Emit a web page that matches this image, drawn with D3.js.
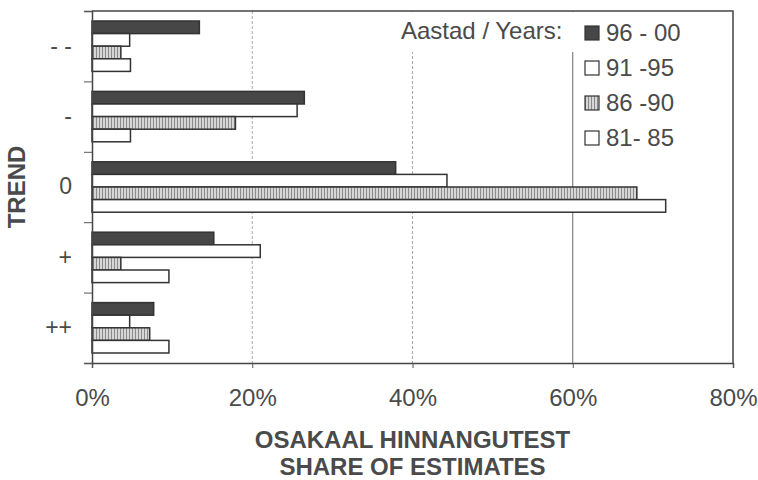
<!DOCTYPE html>
<html>
<head>
<meta charset="utf-8">
<script src="https://cdn.jsdelivr.net/npm/d3@7"></script>
<style>
  html, body { margin: 0; padding: 0; background: #fff; }
  svg { display: block; font-family: "Liberation Sans", Arial, sans-serif; }
</style>
</head>
<body>
<svg id="chart" width="758" height="480"></svg>
<script>
// ---- data ----
const categories = ["- -", "-", "0", "+", "++"];
const seriesNames = ["96 - 00", "91 -95", "86 -90", "81- 85"];
const v9600 = [13.4, 26.5, 37.9, 15.2, 7.7];
const v9195 = [4.7, 25.6, 44.3, 21.0, 4.7];
const v8690 = [3.6, 17.9, 68.0, 3.6, 7.2];
const v8185 = [4.8, 4.8, 71.6, 9.6, 9.6];
const xTicks = [0, 20, 40, 60, 80];
const legendTitle = "Aastad / Years:";
const yTitle = "TREND";
const xTitle1 = "OSAKAAL HINNANGUTEST";
const xTitle2 = "SHARE OF ESTIMATES";

const seriesValues = [v9600, v9195, v8690, v8185];
const fills = ["#474747", "#ffffff", "url(#stripes)", "#ffffff"];

const svg = d3.select("#chart");
const m = { left: 92, top: 11, right: 733, bottom: 363 };
const textCol = "#4a4a4a";

// pattern for 86-90
const defs = svg.append("defs");
const pat = defs.append("pattern").attr("id", "stripes")
  .attr("patternUnits", "userSpaceOnUse").attr("width", 3).attr("height", 3);
pat.append("rect").attr("width", 3).attr("height", 3).attr("fill", "#d6d6d6");
pat.append("rect").attr("x", 0).attr("width", 1).attr("height", 3).attr("fill", "#8a8a8a");

const x = d3.scaleLinear().domain([0, 80]).range([m.left, m.right]);
const y = d3.scaleBand().domain(categories).range([m.top, m.bottom])
  .paddingInner(0.284).paddingOuter(0.142);
const yInner = d3.scaleBand().domain(seriesNames).range([0, y.bandwidth()]);
const yIdx = d3.scaleLinear().domain([0, categories.length]).range([m.top, m.bottom]);

// gridlines
const grid = svg.append("g");
xTicks.filter(t => t > 0 && t < 80).forEach(t => {
  grid.append("line")
    .attr("x1", x(t)).attr("x2", x(t))
    .attr("y1", m.top).attr("y2", m.bottom)
    .attr("stroke", t === 60 ? "#6a6a6a" : "#a8a8a8")
    .attr("stroke-width", 1)
    .attr("stroke-dasharray", t === 60 ? null : "3,2");
});

// frame top and right
svg.append("path")
  .attr("d", `M${m.left},${m.top}H${m.right}V${m.bottom}`)
  .attr("fill", "none").attr("stroke", "#444").attr("stroke-width", 1.5);

// bars
const gBars = svg.append("g");
categories.forEach((c, ci) => {
  seriesNames.forEach((s, si) => {
    gBars.append("rect")
      .attr("x", x(0))
      .attr("y", y(c) + yInner(s))
      .attr("width", x(seriesValues[si][ci]) - x(0))
      .attr("height", yInner.bandwidth())
      .attr("fill", fills[si])
      .attr("stroke", "#333")
      .attr("stroke-width", 1.5);
  });
});

// x axis
const xAxis = d3.axisBottom(x).tickValues(xTicks).tickFormat(d => d + "%")
  .tickSize(5).tickPadding(21);
const gx = svg.append("g").attr("transform", `translate(0,${m.bottom})`).call(xAxis);
gx.select(".domain").attr("stroke", "#444").attr("stroke-width", 1.5);
gx.selectAll(".tick line").attr("stroke", "#555");
gx.selectAll(".tick text").attr("fill", textCol).attr("font-size", 24)
  .attr("font-family", "'Liberation Sans', Arial, sans-serif");

// y axis: labels at band centres, ticks at band boundaries
const yAxis = d3.axisLeft(y).tickSize(0).tickPadding(20);
const gy = svg.append("g").attr("transform", `translate(${m.left},0)`).call(yAxis);
gy.select(".domain").remove();
gy.selectAll(".tick text").attr("fill", textCol).attr("font-size", 23)
  .attr("font-family", "'Liberation Sans', Arial, sans-serif");
const gyt = svg.append("g").attr("transform", `translate(${m.left},0)`)
  .call(d3.axisLeft(yIdx).ticks(categories.length).tickSize(8).tickFormat(""));
gyt.select(".domain").attr("stroke", "#444").attr("stroke-width", 1.5);
gyt.selectAll(".tick line").attr("stroke", "#555");

// legend
const lg = svg.append("g");
lg.append("rect").attr("x", 396).attr("y", m.top + 1).attr("width", 306).attr("height", 40)
  .attr("fill", "#fff");
lg.append("text").attr("x", 401).attr("y", 39).text(legendTitle)
  .attr("font-size", 24).attr("fill", textCol);
seriesNames.forEach((s, i) => {
  const cy = 33 + i * 35;
  lg.append("rect").attr("x", 585).attr("y", cy - 7).attr("width", 14).attr("height", 14)
    .attr("fill", fills[i]).attr("stroke", "#333").attr("stroke-width", 1.2);
  lg.append("text").attr("x", 606).attr("y", cy + 8).text(s)
    .attr("font-size", 24).attr("fill", textCol);
});

// titles
svg.append("text")
  .attr("transform", `translate(25,${(m.top + m.bottom) / 2}) rotate(-90)`)
  .attr("text-anchor", "middle").attr("font-weight", "bold")
  .attr("font-size", 24).attr("fill", textCol).text(yTitle);
svg.append("text").attr("x", (m.left + m.right) / 2).attr("y", 448)
  .attr("text-anchor", "middle").attr("font-weight", "bold")
  .attr("font-size", 24).attr("fill", textCol).text(xTitle1);
svg.append("text").attr("x", (m.left + m.right) / 2).attr("y", 475)
  .attr("text-anchor", "middle").attr("font-weight", "bold")
  .attr("font-size", 24).attr("fill", textCol).text(xTitle2);
</script>
</body>
</html>
